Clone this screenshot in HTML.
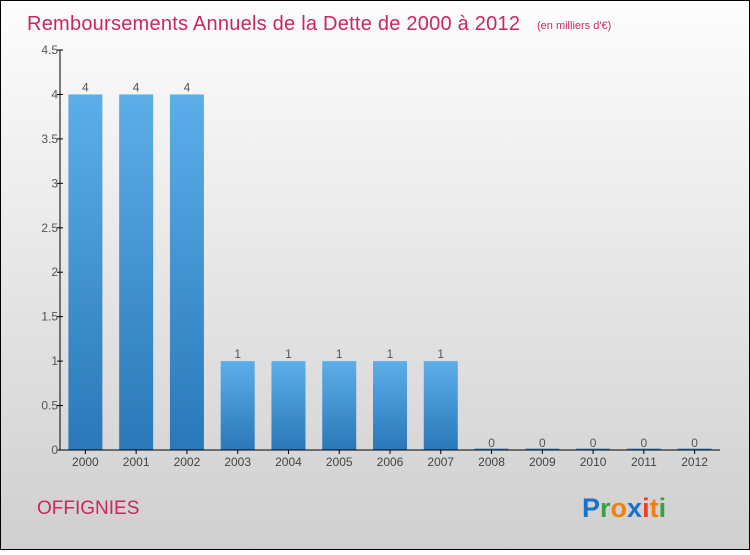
<!DOCTYPE html>
<html><head><meta charset="utf-8"><style>
html,body{margin:0;padding:0}
body{width:750px;height:550px;overflow:hidden;font-family:"Liberation Sans",sans-serif}
</style></head><body>
<svg width="750" height="550" xmlns="http://www.w3.org/2000/svg">
<defs>
<linearGradient id="bg" x1="0" y1="0" x2="0" y2="1"><stop offset="0" stop-color="#fdfdfd"/><stop offset="1" stop-color="#cfcfcf"/></linearGradient>
<linearGradient id="bar" x1="0" y1="0" x2="0" y2="1"><stop offset="0" stop-color="#5caee8"/><stop offset="1" stop-color="#2a78b8"/></linearGradient>
</defs>
<rect x="0.5" y="0.5" width="749" height="549" fill="url(#bg)" stroke="#000"/>
<text x="27" y="30" font-size="20" textLength="493" fill="#c8285a">Remboursements Annuels de la Dette de 2000 à 2012</text>
<text x="537" y="29" font-size="11" fill="#c8285a">(en milliers d'€)</text>
<g id="plot"></g>
<text x="37" y="514" font-size="19" fill="#c8285a">OFFIGNIES</text>
<text x="582" y="517" font-size="27" font-weight="bold"><tspan fill="#1a73c8">P</tspan><tspan fill="#3aa040">r</tspan><tspan fill="#f08010">o</tspan><tspan fill="#1a73c8">x</tspan><tspan fill="#e84020">i</tspan><tspan fill="#f08010">t</tspan><tspan fill="#3aa040">i</tspan></text>
</svg>
<script>
const categories=["2000","2001","2002","2003","2004","2005","2006","2007","2008","2009","2010","2011","2012"];
const values=[4,4,4,1,1,1,1,1,0,0,0,0,0];
const yTicks=[0,0.5,1,1.5,2,2.5,3,3.5,4,4.5];
const yTickLabels=["0","0.5","1","1.5","2","2.5","3","3.5","4","4.5"];
const NS="http://www.w3.org/2000/svg";
const g=document.getElementById('plot');
const x0=60,x1=720,yBase=450,yTop=50,yMax=4.5;
const y=v=>yBase-(v/yMax)*(yBase-yTop);
const step=(x1-x0)/categories.length;
const xc=i=>x0+step*(i+0.5);
function mk(t,a){const e=document.createElementNS(NS,t);for(const k in a)e.setAttribute(k,a[k]);g.appendChild(e);return e;}
values.forEach((v,i)=>{
  const w=34,h=Math.max(yBase-y(v),1.5);
  const r=mk('rect',{x:xc(i)-w/2,y:yBase-h,width:w,height:h,fill:v>0?'url(#bar)':'#4a90d0'});
  
  
  const t=mk('text',{x:xc(i),y:y(v)-3,'text-anchor':'middle','font-size':12,fill:'#555'});
  t.textContent=v;
  
  
  const c=mk('text',{x:xc(i),y:466,'text-anchor':'middle','font-size':12,fill:'#444'});
  c.textContent=categories[i];
  
  
  mk('line',{x1:xc(i),x2:xc(i),y1:yBase,y2:yBase+4,stroke:'#000'});
});
yTicks.forEach((v,i)=>{
  mk('line',{x1:x0-3,x2:x0+3,y1:y(v),y2:y(v),stroke:'#000'});
  const t=mk('text',{x:x0-2,y:y(v)+4,'text-anchor':'end','font-size':12,fill:'#555'});
  t.textContent=yTickLabels[i];
  
  
});
const ya=mk('line',{x1:x0,x2:x0,y1:yTop,y2:yBase,stroke:'#000'});


const xa=mk('line',{x1:x0,x2:x1,y1:yBase,y2:yBase,stroke:'#000'});


</script>
</body></html>
